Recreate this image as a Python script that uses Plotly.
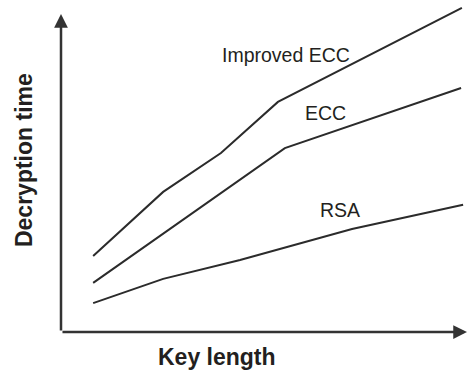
import plotly.graph_objects as go

# Data (arbitrary units)
improved_x = [0.79, 2.51, 3.93, 5.33, 9.85]
improved_y = [2.29, 4.22, 5.39, 6.93, 9.76]
ecc_x = [0.79, 5.50, 9.83]
ecc_y = [1.48, 5.54, 7.35]
rsa_x = [0.79, 2.51, 4.40, 7.15, 9.88]
rsa_y = [0.87, 1.60, 2.17, 3.10, 3.83]

series_names = ["Improved ECC", "ECC", "RSA"]
label_x = [5.52, 6.51, 6.86]
label_y = [8.34, 6.60, 3.68]

line_color = "#2b2b2b"
text_color = "#231f20"

fig = go.Figure()
for xs, ys, name in [(improved_x, improved_y, series_names[0]),
                     (ecc_x, ecc_y, series_names[1]),
                     (rsa_x, rsa_y, series_names[2])]:
    fig.add_trace(go.Scatter(x=xs, y=ys, mode="lines", name=name,
                             line=dict(color=line_color, width=2),
                             showlegend=False, hoverinfo="skip"))

for name, lx, ly in zip(series_names, label_x, label_y):
    fig.add_annotation(x=lx, y=ly, text=name, showarrow=False,
                       font=dict(family="Liberation Sans, Arial", size=19.5, color=text_color),
                       xanchor="center", yanchor="middle")

# Axis arrows
fig.add_annotation(x=0, y=9.58, ax=0, ay=318, xref="x", yref="y",
                   showarrow=True, arrowhead=2, arrowsize=1.1, arrowwidth=2.5,
                   arrowcolor="#333333", text="")
fig.add_annotation(x=9.975, y=0, ax=-406, ay=0, xref="x", yref="y",
                   showarrow=True, arrowhead=2, arrowsize=1.1, arrowwidth=2.5,
                   arrowcolor="#333333", text="")

# Axis titles
fig.add_annotation(x=0.383, y=-0.0753, xref="paper", yref="paper", text="<b>Key length</b>",
                   showarrow=False, xanchor="center", yanchor="middle",
                   font=dict(family="Liberation Sans, Arial", size=23, color=text_color))
fig.add_annotation(x=-0.0909, y=0.518, xref="paper", yref="paper", text="<b>Decryption time</b>",
                   showarrow=False, xanchor="center", yanchor="middle", textangle=-90,
                   font=dict(family="Liberation Sans, Arial", size=23, color=text_color))

fig.update_xaxes(range=[0, 10], visible=False)
fig.update_yaxes(range=[0, 10], visible=False)
fig.update_layout(width=468, height=374, margin=dict(l=61, r=0, t=0, b=42),
                  paper_bgcolor="white", plot_bgcolor="white", hovermode=False)

fig.write_html("out.html", config={"displayModeBar": False, "staticPlot": True})

# remove default page margin so the figure sits at the window's top-left corner
with open("out.html", encoding="utf-8") as f:
    html = f.read()
html = html.replace("<head>", "<head><style>html,body{margin:0;padding:0;overflow:hidden;}</style>", 1)
with open("out.html", "w", encoding="utf-8") as f:
    f.write(html)
